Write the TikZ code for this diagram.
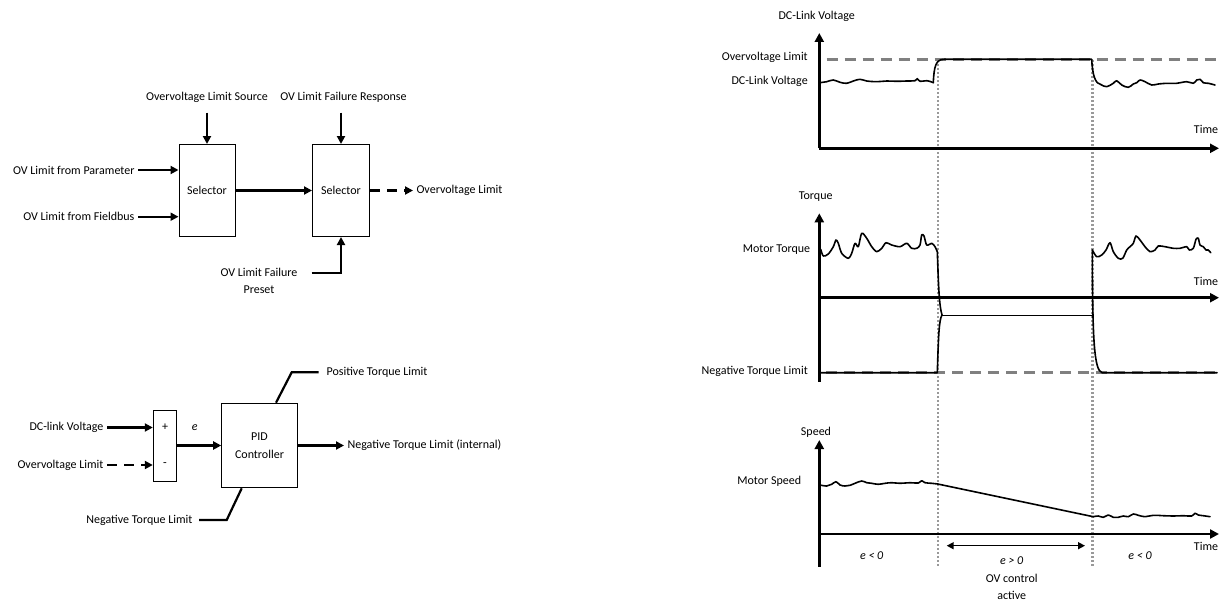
\documentclass[tikz,border=0pt]{standalone}
\usepackage{fontspec}
\setmainfont{Carlito}
\usepackage{tikz}
\usetikzlibrary{positioning,arrows.meta}

\begin{document}
\begin{tikzpicture}[x=1pt, y=-1pt, >={Triangle[length=8pt,width=8pt]}, font=\fontsize{12}{17.5}\selectfont,
		blk/.style={draw, line width=1pt, inner sep=0pt, align=center},
		sig/.style={line width=2.2pt},
		arr/.style={sig, ->},
		dsh/.style={dash pattern=on 10pt off 7pt},
		ax/.style={line width=2.8pt, ->, >={Triangle[length=9pt,width=9pt]}},
		trace/.style={line width=1.6pt, line join=round, line cap=round},
		lim/.style={line width=2.6pt, black!50, dash pattern=on 11pt off 7pt},
		tline/.style={line width=2.4pt, black!40, dash pattern=on 2pt off 2pt}]
		
		\useasboundingbox (0,0) rectangle (1228,602);
		
		% selector chain
		\node[blk, minimum width=56pt, minimum height=92pt] (sel1) at (207,190.5) {Selector};
		\node[blk, minimum width=57pt, minimum height=92pt] (sel2) at (341,190.5) {Selector};
		\node (src) at (207,97) {Overvoltage Limit Source};
		\node (rsp) at (343.5,97) {OV Limit Failure Response};
		\node[anchor=east] (par) at (138,170) {OV Limit from Parameter};
		\node[anchor=east] (fld) at (138,216.7) {OV Limit from Fieldbus};
		\node[anchor=west] (ovl) at (413,190.5) {Overvoltage Limit};
		\node[align=center] (pre) at (259,281) {OV Limit Failure\\Preset};
		\coordinate (pre-in) at (311.7,272.7);
		
		\draw[arr, shorten <=7pt] (sel1.north |- src.south) -- (sel1.north);
		\draw[arr, shorten <=7pt] (sel2.north |- rsp.south) -- (sel2.north);
		\draw[arr] (par.east) -- (par.east -| sel1.west);
		\draw[arr] (fld.east) -- (fld.east -| sel1.west);
		\draw[arr] (sel1.east) -- (sel2.west);
		\draw[arr, dsh] (sel2.east) -- (ovl.west);
		\draw[arr] (pre-in) -| (sel2.south);
		
		% PID loop
		\node[blk, minimum width=23.4pt, minimum height=71pt] (sum) at (165,445.5) {};
		\node (plus) at (165,427.5) {+};
		\node (minus) at (165,465) {-};
		\node[anchor=east] (dcv) at (107,427.5) {DC-link Voltage};
		\node[anchor=east] (ovl2) at (107,465) {Overvoltage Limit};
		\node[blk, minimum width=75.6pt, minimum height=84.6pt] (pid) at (259.5,445.5) {PID\\Controller};
		\node[anchor=west] (nti) at (344,445.5) {Negative Torque Limit (internal)};
		\node[anchor=west] (ptl) at (323,372.3) {Positive Torque Limit};
		\node[anchor=east] (ntl) at (196,520) {Negative Torque Limit};
		\coordinate (ptl-k) at (291.7,372.3);
		\coordinate (ntl-k) at (226.7,520);
		
		\draw[arr] (dcv.east) -- (dcv.east -| sum.west);
		\draw[arr, dsh] (ovl2.east) -- (ovl2.east -| sum.west);
		\draw[arr] (sum.east) -- (pid.west) node[pos=0.4, above=10pt] (err) {\textit{e}};
		\draw[arr] (pid.east) -- (nti.west);
		\draw[sig] ([xshift=16.5pt]pid.north) -- (ptl-k) -- ([xshift=-4.5pt]ptl.west);
		\draw[sig] ([xshift=-17.8pt]pid.south) -- (ntl-k) -- ([xshift=3pt]ntl.east);
		
		% time markers
		\draw[tline] (937.7,60) -- (937.7,566.7);
		\draw[tline] (1092.3,60) -- (1092.3,566.7);
		
		% dc-link voltage
		\draw[lim] (826.7,59.3) -- (1218,59.3);
		\draw[ax] (819.3,148.3) -- (819.3,33);
		\draw[ax] (819.3,148.3) -- (1219,148.3);
		\draw[trace] plot[smooth, tension=0.6] coordinates {(819.3,82.7) (826.7,81.7) (833.3,80) (840,82.3) (846.7,83.3) (853.3,81) (860,79.3) (866.7,81) (876.7,81.7) (886.7,81) (896.7,81.3) (906.7,81) (915,80.7) (917.3,78.7) (920,81.3) (926.7,80.7) (931.7,82) (933.3,82.7)};
		\draw[trace] (933.3,82.7) .. controls (934,66) and (936,59.3) .. (944,59.3) -- (1091.7,59.3) .. controls (1092.5,75) and (1095,84) .. (1101.7,85);
		\draw[trace] plot[smooth, tension=0.6] coordinates {(1101.7,85) (1106.7,86.7) (1113.3,83.3) (1116.7,80.7) (1121.7,85) (1128.3,87.3) (1133.3,84) (1136.7,82.7) (1140,80) (1145,81.7) (1151.7,85) (1158.3,84) (1166.7,83.3) (1176.7,83.3) (1186.7,81.7) (1193.3,83.3) (1196.7,80) (1200,79.3) (1203.3,82.7) (1208.3,83.3) (1215,85)};
		\node (vtitle) at (816.7,16.7) {DC-Link Voltage};
		\node[anchor=east] (vlim) at (811.3,57.7) {Overvoltage Limit};
		\node[anchor=east] (vdcl) at (811.3,81) {DC-Link Voltage};
		\node (vtime) at (1206,129.3) {Time};
		
		% torque
		\draw[lim] (826,372.7) -- (1218,372.7);
		\draw[ax] (819.3,381.7) -- (819.3,213.3);
		\draw[ax] (819.3,297.7) -- (1219,297.7);
		\draw[trace] plot[smooth, tension=0.5] coordinates {(820.7,249.3) (823.3,256) (828.3,254) (833.3,246.7) (836,240) (838.3,243.3) (841.7,253.3) (848.3,258.3) (851.7,253.3) (855,243.3) (858.3,246.7) (861.7,233.3) (866.7,238.3) (871.7,246.7) (876.7,251.7) (881.7,248.3) (886,242.7) (891.7,245) (900,246.7) (906.7,243.3) (911.7,248.3) (916.7,248.3) (920,245) (921.7,235) (924,236) (926.7,245) (931.7,243.3) (935,246.7) (937.3,251.7)};
		\draw[trace] (937.3,251.7) .. controls (938.5,285) and (939,305) .. (942,315);
		\draw[trace] (820,372.7) -- (937.3,372.7) .. controls (938.5,335) and (939,320) .. (942,315);
		\draw[line width=1pt] (942,315) -- (1092.3,315);
		\draw[trace] (1092.3,250) .. controls (1092.5,340) and (1094,370) .. (1102,372.7) -- (1217,372.7);
		\draw[trace] plot[smooth, tension=0.5] coordinates {(1092.3,250) (1096.7,256.7) (1101.7,255) (1106,250) (1110,242.7) (1113.3,251.7) (1118.3,258.3) (1122.7,258.3) (1126.7,250) (1130,246.7) (1133.3,243.3) (1136,236) (1140,240) (1145,246.7) (1150,251.7) (1155,250) (1158.3,246) (1165,246.7) (1173.3,248.3) (1180,248.3) (1186.7,246.7) (1189.3,250) (1193.3,248.3) (1196,239.3) (1198.3,238.3) (1200,245) (1203.3,246.7) (1206,250) (1208.3,250) (1210.7,252.7)};
		\node (ttitle) at (815.7,196.7) {Torque};
		\node[anchor=east] (tmot) at (813.7,250) {Motor Torque};
		\node[anchor=east] (tneg) at (811.3,371.7) {Negative Torque Limit};
		\node (ttime) at (1206,281) {Time};
		
		% speed
		\draw[ax] (819.3,566.7) -- (819.3,440);
		\draw[ax] (819.3,534) -- (1219,534);
		\draw[trace] plot[smooth, tension=0.6] coordinates {(820,485) (826.7,486) (831.7,484.3) (836,481.7) (840,485) (845,486) (850,485.3) (855,483.3) (861.7,481) (866.7,482.7) (871.7,483.3) (878.3,484.3) (885,483.3) (891.7,482.7) (900,483.3) (910,482.7) (918.3,483) (921.7,480.7) (925,482.7) (931.7,483.3) (937.7,484)};
		\draw[trace] (937.7,484) -- (1093.3,516.7);
		\draw[trace] plot[smooth, tension=0.6] coordinates {(1093.3,516.7) (1098.3,516) (1103.3,517.3) (1108.3,515) (1113.3,517.3) (1118.3,517.3) (1123.3,516) (1128.3,516.7) (1133.3,514) (1138.3,515.3) (1145,516.7) (1153.3,515.3) (1163.3,515.7) (1173.3,516) (1183.3,515.7) (1191.7,516) (1195,513.3) (1198.3,515) (1203.3,515.7) (1210,516.7)};
		\draw[<->, line width=1.5pt, >={Triangle[length=7pt,width=7pt]}] (946.7,545.7) -- (1085,545.7);
		\node (stitle) at (816,432.7) {Speed};
		\node[anchor=east] (smot) at (804.7,481) {Motor Speed};
		\node (stime) at (1206,546.7) {Time};
		\node (eneg1) at (871.7,555.7) {\textit{e < 0}};
		\node[align=center] (epos) at (1011.7,578.5) {\textit{e > 0}\\OV control\\active};
		\node (eneg2) at (1140,555.7) {\textit{e < 0}};
	\end{tikzpicture}
\end{document}
